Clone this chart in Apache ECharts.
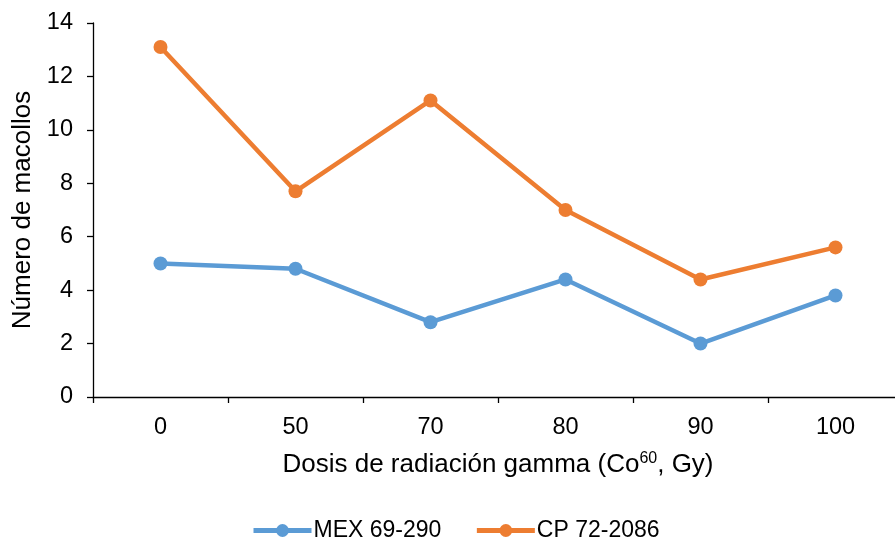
<!DOCTYPE html>
<html>
<head>
<meta charset="utf-8">
<script src="https://cdn.jsdelivr.net/npm/echarts@6/dist/echarts.min.js"></script>
<style>
  html, body { margin: 0; padding: 0; background: #ffffff; overflow: hidden; }
  /* the plot runs a little past the right edge of the window, so the canvas is wider */
  #chart { width: 912px; height: 542px; }
</style>
</head>
<body>
<div id="chart"></div>
<script>
// Dosis de radiación gamma (Gy)
const doses = ['0', '50', '70', '80', '90', '100'];
// Número de macollos por variedad
const mex69290 = [5.0, 4.8, 2.8, 4.4, 2.0, 3.8];
const cp722086 = [13.1, 7.7, 11.1, 7.0, 4.4, 5.6];
const yTicks = { min: 0, max: 14, interval: 2 };

const font = 'Liberation Sans, Arial, sans-serif';
const chart = echarts.init(document.getElementById('chart'), null, { renderer: 'canvas' });

chart.setOption({
  backgroundColor: '#ffffff',
  animation: false,
  grid: { left: 93, top: 23, width: 810, height: 374, containLabel: false },
  legend: {
    bottom: -5,
    left: 246,
    itemWidth: 58,
    itemHeight: 16,
    itemGap: 33,
    lineStyle: { width: 5 },
    textStyle: { fontFamily: font, fontSize: 23, color: '#000', padding: [0, 0, 0, -3] },
    data: ['MEX 69-290', 'CP 72-2086']
  },
  xAxis: {
    type: 'category',
    data: doses,
    boundaryGap: true,
    axisLine: { lineStyle: { color: '#000', width: 1.3 } },
    axisTick: { show: true, length: 6, lineStyle: { color: '#000', width: 1.3 } },
    axisLabel: { fontFamily: font, fontSize: 23.5, color: '#000', margin: 19 },
    name: 'Dosis de radiación gamma (Co{sup|60}, Gy)',
    nameLocation: 'middle',
    nameGap: 54,
    nameTextStyle: {
      fontFamily: font, fontSize: 26, color: '#000',
      rich: {
        sup: { fontFamily: font, fontSize: 16, color: '#000', padding: [0, 0, 11, 0] }
      }
    }
  },
  yAxis: {
    type: 'value',
    min: yTicks.min,
    max: yTicks.max,
    interval: yTicks.interval,
    splitLine: { show: false },
    axisLine: { show: true, lineStyle: { color: '#000', width: 1.3 } },
    axisTick: { show: true, length: 6, inside: false, lineStyle: { color: '#000', width: 1.3 } },
    axisLabel: { fontFamily: font, fontSize: 23.5, color: '#000', margin: 20 },
    name: 'Número de macollos',
    nameLocation: 'middle',
    nameGap: 57,
    nameRotate: 90,
    nameTextStyle: { fontFamily: font, fontSize: 26, color: '#000' }
  },
  series: [
    {
      name: 'MEX 69-290',
      type: 'line',
      data: mex69290,
      symbol: 'circle',
      symbolSize: 14,
      color: '#5B9BD5',
      lineStyle: { width: 4.5, color: '#5B9BD5' },
      itemStyle: { color: '#5B9BD5' }
    },
    {
      name: 'CP 72-2086',
      type: 'line',
      data: cp722086,
      symbol: 'circle',
      symbolSize: 14,
      color: '#ED7D31',
      lineStyle: { width: 4.5, color: '#ED7D31' },
      itemStyle: { color: '#ED7D31' }
    }
  ]
});
</script>
</body>
</html>
